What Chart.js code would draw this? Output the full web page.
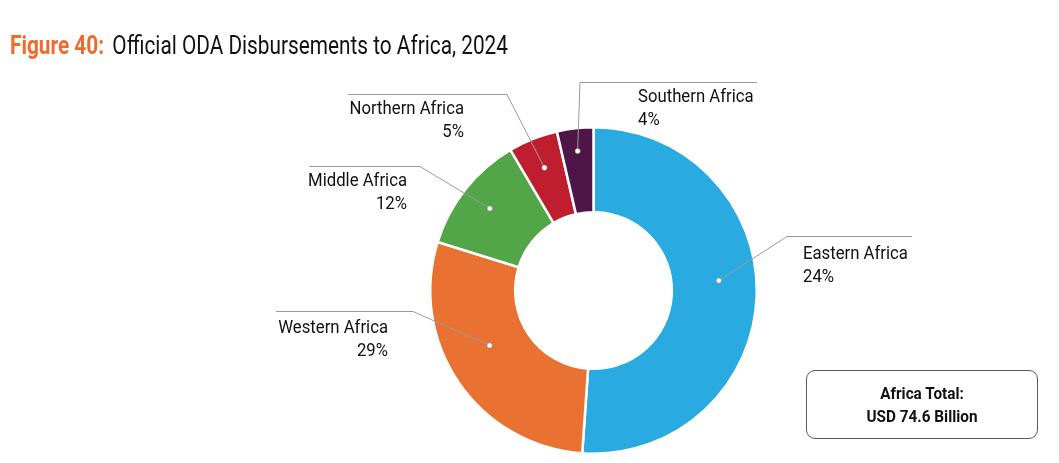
<!DOCTYPE html>
<html>
<head>
    <title>Official ODA Disbursements to Africa, 2024</title>
    <script src="https://cdn.jsdelivr.net/npm/chart.js"></script>
    <style>
        body { margin: 0; background: #fff; }
        #wrap { position: relative; width: 1059px; height: 463px; overflow: hidden; }
        #title { position: absolute; left: 10px; top: 30px; font-family: Roboto, sans-serif; font-size: 26px; line-height: 30px;
                 color: #111; white-space: nowrap; transform: scaleX(0.8); transform-origin: left top; }
        #title b { color: #f06a2e; font-weight: 700; margin-right: 4px; }
        #total { position: absolute; left: 806px; top: 370px; width: 230px; height: 67px; border: 1px solid #5a5a5a; border-radius: 9px;
                 font-family: Roboto, sans-serif; font-weight: 700; font-size: 17px; color: #111; text-align: center;
                 display: flex; flex-direction: column; justify-content: center; line-height: 23px; }
        #total div { transform: scaleX(0.9); }
        canvas { position: absolute; left: 0; top: 0; }
    </style>
</head>
<body>
<div id="wrap">
    <canvas id="odaChart" width="1059" height="463"></canvas>
    <div id="title"><b>Figure 40:</b> Official ODA Disbursements to Africa, 2024</div>
    <div id="total"><div>Africa Total:</div><div>USD 74.6 Billion</div></div>
</div>

<script>
    // regions, slice sizes (share of the ring)
    var regions = ['Eastern Africa', 'Western Africa', 'Middle Africa', 'Northern Africa', 'Southern Africa'];
    var shares = [51.1, 28.7, 11.7, 4.9, 3.6];
    // percentage labels exactly as printed on the figure
    var shareLabels = ['24%', '29%', '12%', '5%', '4%'];
    var colors = ['#29abe2', '#e97132', '#52a647', '#be1e2d', '#4e1548'];

    // leader line layout for each label (canvas pixels)
    var labelLayout = [
        { shift: -6.5, r: 0.77, elbow: [787, 236], end: 912, tx: 803, align: 'left',  ty: 259 },
        { shift: 6.5,  r: 0.72, elbow: [413, 311], end: 276, tx: 388, align: 'right', ty: 333 },
        { shift: 0,    r: 0.81, elbow: [420, 166], end: 309, tx: 407, align: 'right', ty: 186 },
        { shift: 0,    r: 0.81, elbow: [507, 94],  end: 348, tx: 464, align: 'right', ty: 114 },
        { shift: 0,    r: 0.86, elbow: [580, 82],  end: 757, tx: 638, align: 'left',  ty: 102 }
    ];

    function squeezedText(ctx, text, x, y) {
        ctx.save();
        ctx.translate(x, y);
        ctx.scale(0.88, 1);
        ctx.fillText(text, 0, 0);
        ctx.restore();
    }

    var leaderLabels = {
        id: 'leaderLabels',
        afterDatasetsDraw: function(chart) {
            var ctx = chart.ctx;
            var arcs = chart.getDatasetMeta(0).data;
            ctx.save();
            arcs.forEach(function(arc, i) {
                var L = labelLayout[i];
                var p = arc.getProps(['x', 'y', 'startAngle', 'endAngle', 'outerRadius'], true);
                var mid = (p.startAngle + p.endAngle) / 2 + L.shift * Math.PI / 180;
                var dx = p.x + Math.cos(mid) * p.outerRadius * L.r;
                var dy = p.y + Math.sin(mid) * p.outerRadius * L.r;

                ctx.strokeStyle = '#9b9b9b';
                ctx.lineWidth = 1;
                ctx.beginPath();
                ctx.moveTo(dx, dy);
                ctx.lineTo(L.elbow[0], L.elbow[1] + 0.5);
                ctx.lineTo(L.end, L.elbow[1] + 0.5);
                ctx.stroke();

                ctx.beginPath();
                ctx.arc(dx, dy, 2.6, 0, Math.PI * 2);
                ctx.fillStyle = '#fff';
                ctx.fill();
                ctx.strokeStyle = '#8a8a8a';
                ctx.lineWidth = 0.6;
                ctx.stroke();

                ctx.fillStyle = '#111';
                ctx.font = '19px Roboto, sans-serif';
                ctx.textAlign = L.align;
                ctx.textBaseline = 'alphabetic';
                squeezedText(ctx, regions[i], L.tx, L.ty);
                squeezedText(ctx, shareLabels[i], L.tx, L.ty + 23);
            });
            ctx.restore();
        }
    };

    var ctx = document.getElementById('odaChart').getContext('2d');
    var odaChart = new Chart(ctx, {
        type: 'doughnut',
        data: {
            labels: regions,
            datasets: [{
                data: shares,
                backgroundColor: colors,
                borderColor: '#ffffff',
                borderWidth: 2.5
            }]
        },
        options: {
            responsive: false,
            animation: false,
            cutout: '48%',
            layout: { padding: { top: 126, bottom: 8, left: 300, right: 172 } },
            plugins: {
                legend: { display: false },
                tooltip: { enabled: false }
            }
        },
        plugins: [leaderLabels]
    });
</script>
</body>
</html>
